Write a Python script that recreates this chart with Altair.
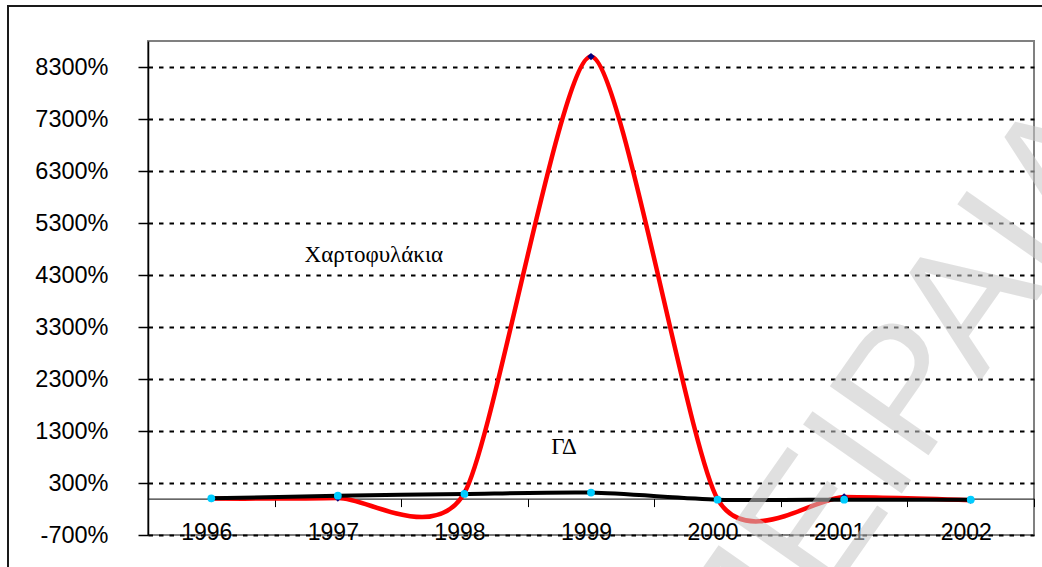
import altair as alt
import pandas as pd

# ---- data ----
years = ["1996", "1997", "1998", "1999", "2000", "2001", "2002"]
portfolio = [0, 10, 110, 8500, -10, 30, -30]      # Χαρτοφυλάκια (%)
gd = [5, 55, 90, 115, -20, -20, -20]               # ΓΔ (%)
y_ticks = [-700, 300, 1300, 2300, 3300, 4300, 5300, 6300, 7300, 8300]
y_domain = [-700, 8800]
label_portfolio = "Χαρτοφυλάκια"
label_gd = "ΓΔ"
watermark_text = "ΠΕΙΡΑΙΑ"

df_p = pd.DataFrame({"year": years, "value": portfolio})
df_g = pd.DataFrame({"year": years, "value": gd})

W, H = 886, 494
zero_offset = -(0 - y_domain[0]) / (y_domain[1] - y_domain[0]) * H

x_scale = alt.Scale(type="band", paddingInner=0, paddingOuter=0, domain=years)
y_scale = alt.Scale(domain=y_domain, nice=False, zero=False)

x_axis = alt.Axis(
    title=None, orient="bottom", offset=zero_offset,
    domainColor="black", domainWidth=1,
    tickBand="extent", tickSize=8, tickColor="black", tickWidth=1,
    labelFont="Liberation Sans", labelFontSize=23, labelColor="black",
    labelPadding=15, labelOffset=-5, labelAngle=0, grid=False,
)
y_axis = alt.Axis(
    title=None, values=y_ticks, labelExpr="datum.value + '%'",
    domainColor="black", domainWidth=1.5,
    tickSize=10, tickColor="black", tickWidth=1.5,
    labelFont="Liberation Sans", labelFontSize=23.5, labelColor="black",
    labelPadding=30,
    grid=True, gridColor="black", gridDash=[4.5, 6], gridWidth=2, gridOpacity=1,
)

X = alt.X("year:O", scale=x_scale, bandPosition=0.5, axis=x_axis)
Y = alt.Y("value:Q", scale=y_scale, axis=y_axis)

red_line = alt.Chart(df_p).mark_line(
    color="#ff0000", strokeWidth=4.5, interpolate="cardinal", tension=0.3
).encode(x=X, y=Y)
red_pts = alt.Chart(df_p).mark_point(
    shape="diamond", filled=True, color="#000080", size=55, opacity=1
).encode(x=X, y=Y)
black_line = alt.Chart(df_g).mark_line(
    color="black", strokeWidth=4, interpolate="cardinal", tension=0.3
).encode(x=X, y=Y)
black_pts = alt.Chart(df_g).mark_circle(
    color="#00ccff", size=60, opacity=1
).encode(x=X, y=Y)

lab1 = alt.Chart(pd.DataFrame({"year": ["1997"], "value": [4550], "t": [label_portfolio]})).mark_text(
    font="Liberation Serif", fontSize=23, color="black", align="center", baseline="alphabetic", dx=36
).encode(x=X, y=Y, text="t:N")
lab2 = alt.Chart(pd.DataFrame({"year": ["1999"], "value": [860], "t": [label_gd]})).mark_text(
    font="Liberation Serif", fontSize=23, color="black", align="center", baseline="alphabetic", dx=-27
).encode(x=X, y=Y, text="t:N")

one = pd.DataFrame({"t": [watermark_text]})
watermark = alt.Chart(one).mark_text(
    font="Liberation Sans", fontSize=175, color="#c8c8c8", opacity=0.55,
    align="left", baseline="alphabetic", angle=305
).encode(x=alt.value(605), y=alt.value(665), text="t:N")

frame = alt.Chart(pd.DataFrame({"a": [0]})).mark_rect(
    fill=None, stroke="#1a1a1a", strokeWidth=2
).encode(x=alt.value(-140), y=alt.value(-35), x2=alt.value(1200), y2=alt.value(700))

chart = alt.layer(
    red_line, black_line, red_pts, black_pts, lab1, lab2, watermark, frame
).properties(
    width=W, height=H,
    autosize=alt.AutoSizeParams(type="none"),
    padding={"left": 148, "top": 41, "right": 8, "bottom": 32},
    background="white",
).configure_view(stroke="#808080", strokeWidth=2)

chart.save("out.html", embed_options={"renderer": "svg", "actions": False})
